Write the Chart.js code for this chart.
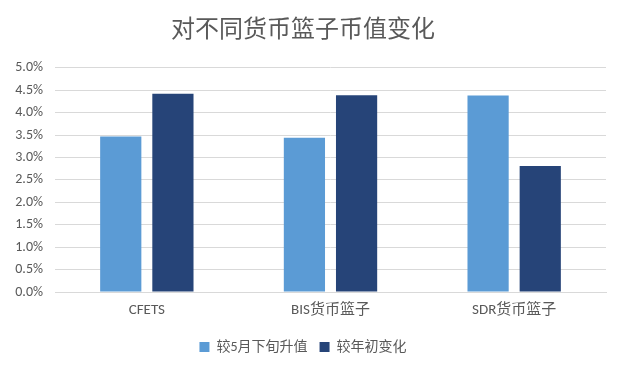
<!DOCTYPE html>
<html><head><meta charset="utf-8">
<script src="https://cdn.jsdelivr.net/npm/chart.js@4"></script>
<style>html,body{margin:0;padding:0;background:#fff}#w{width:623px;height:373px}</style>
</head><body><div id="w"><canvas id="c"></canvas></div>
<script>
const categories = ["CFETS", "BIS货币篮子", "SDR货币篮子"];
const seriesNames = ["较5月下旬升值", "较年初变化"];
const sinceLateMay = [3.47, 3.44, 4.38];
const sinceYearStart = [4.42, 4.39, 2.81];
const titleText = "对不同货币篮子币值变化";
const FONT = "Calibri, 'Noto Sans CJK SC', sans-serif";
const GRAY = "#595959";
new Chart(document.getElementById('c'), {
  type: 'bar',
  data: {
    labels: categories,
    datasets: [
      {label: seriesNames[0], data: sinceLateMay, backgroundColor: '#5b9bd5', borderColor: '#5b9bd5', borderWidth: 0, categoryPercentage: 0.568, barPercentage: 0.79},
      {label: seriesNames[1], data: sinceYearStart, backgroundColor: '#264478', borderColor: '#264478', borderWidth: 0, categoryPercentage: 0.568, barPercentage: 0.79}
    ]
  },
  options: {
    responsive: true, maintainAspectRatio: false, animation: false,
    layout: {padding: {left: 0, right: 17, top: 0, bottom: 9}},
    plugins: {
      title: {display: true, text: titleText, color: GRAY, font: {family: FONT, size: 24, weight: 'normal', lineHeight: 1.2}, padding: {top: 17, bottom: 22}},
      legend: {position: 'bottom', labels: {color: GRAY, font: {family: FONT, size: 14}, boxWidth: 10, boxHeight: 10, padding: 12}},
      tooltip: {enabled: false}
    },
    scales: {
      x: {
        grid: {display: false, drawTicks: false},
        border: {color: '#d9d9d9'},
        ticks: {color: GRAY, font: {family: FONT, size: 15}, padding: 9}
      },
      y: {
        min: 0, max: 5,
        afterFit: s => { s.width = 55; },
        grid: {color: '#d9d9d9', lineWidth: 1, drawTicks: false},
        border: {display: false},
        ticks: {stepSize: 0.5, color: GRAY, font: {family: FONT, size: 14}, padding: 12, callback: v => v.toFixed(1) + '%'}
      }
    }
  }
});
</script></body></html>
